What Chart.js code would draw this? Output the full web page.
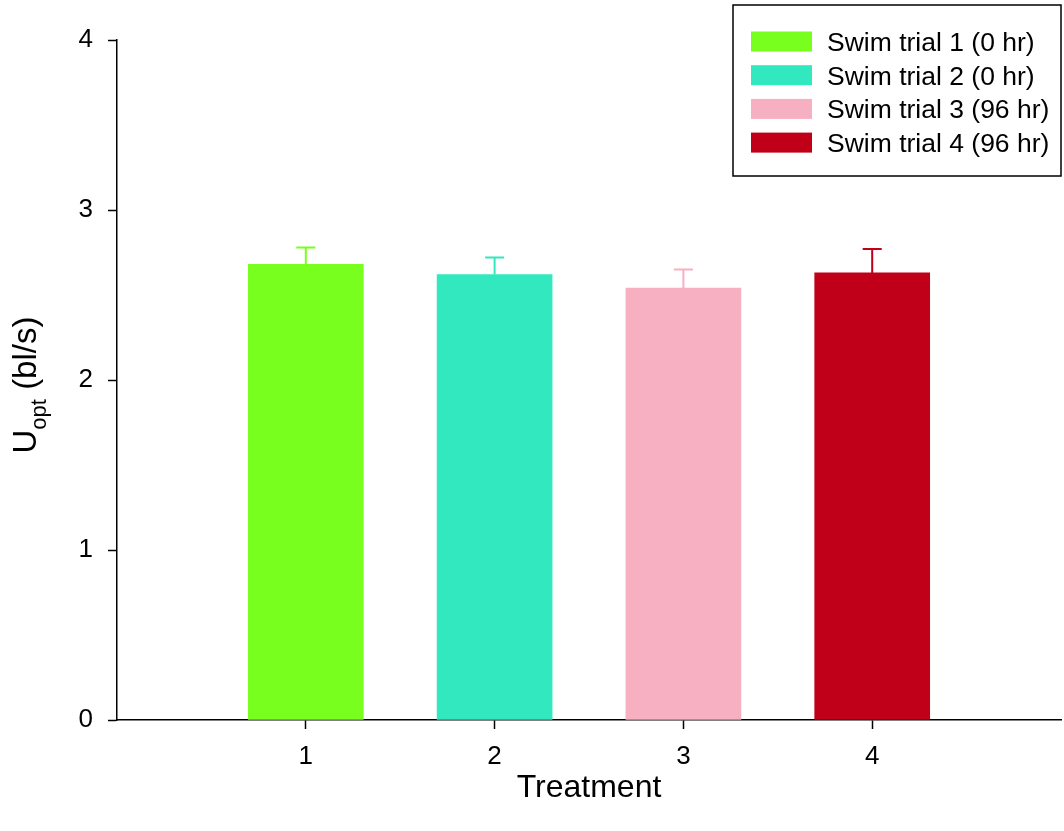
<!DOCTYPE html>
<html><head><meta charset="utf-8">
<script src="https://cdn.jsdelivr.net/npm/chart.js@4.4.1/dist/chart.umd.min.js"></script>
<style>html,body{margin:0;padding:0;background:#fff;} canvas{display:block;}</style>
</head><body>
<canvas id="c" width="1064" height="831"></canvas>
<script>
// ---- data ----
const categories = [1, 2, 3, 4];
const seriesLabels = ['Swim trial 1 (0 hr)', 'Swim trial 2 (0 hr)', 'Swim trial 3 (96 hr)', 'Swim trial 4 (96 hr)'];
const meanValues = [2.68, 2.62, 2.54, 2.63];
const errorValues = [0.10, 0.10, 0.11, 0.14];
const yTickValues = [0, 1, 2, 3, 4];
const xTickValues = [1, 2, 3, 4];
const xTitle = 'Treatment';
const yTitleMain = 'U';
const yTitleSub = 'opt';
const yTitleRest = ' (bl/s)';

// ---- styles ----
const colors = ['#78FF1E', '#32E8BE', '#F7AFC2', '#C00018'];
const FONT = '"Liberation Sans", Arial, sans-serif';

const datasets = categories.map((c, i) => ({
  label: seriesLabels[i],
  data: [{ x: c, y: meanValues[i], err: errorValues[i] }],
  backgroundColor: colors[i],
  borderWidth: 0,
  barThickness: 115,
  grouped: false
}));

const errorBarPlugin = {
  id: 'errorBars',
  afterDatasetsDraw(chart) {
    const { ctx, scales: { y } } = chart;
    chart.data.datasets.forEach((ds, i) => {
      const meta = chart.getDatasetMeta(i);
      meta.data.forEach((bar, j) => {
        const pt = ds.data[j];
        const xp = bar.x;
        const yTop = y.getPixelForValue(pt.y + pt.err);
        ctx.save();
        ctx.strokeStyle = ds.backgroundColor;
        ctx.lineWidth = 2;
        ctx.beginPath();
        ctx.moveTo(xp, bar.y);
        ctx.lineTo(xp, yTop);
        ctx.moveTo(xp - 9.5, yTop);
        ctx.lineTo(xp + 9.5, yTop);
        ctx.stroke();
        ctx.restore();
      });
    });
  }
};

const legendPlugin = {
  id: 'boxLegend',
  afterDraw(chart) {
    const ctx = chart.ctx;
    const fs = 26.5;
    ctx.save();
    ctx.strokeStyle = '#000';
    ctx.lineWidth = 1.5;
    ctx.strokeRect(733, 5, 328, 171);
    ctx.font = fs + 'px ' + FONT;
    ctx.textBaseline = 'alphabetic';
    chart.data.datasets.forEach((ds, i) => {
      const top = 31.5 + i * 33.7;
      ctx.fillStyle = ds.backgroundColor;
      ctx.fillRect(751, top, 61, 20);
      ctx.fillStyle = '#000';
      ctx.fillText(ds.label, 827, top + 10 + 0.358 * fs);
    });
    ctx.restore();
  }
};

const yTitlePlugin = {
  id: 'yTitle',
  afterDraw(chart) {
    const ctx = chart.ctx;
    const mainF = '33px ' + FONT, subF = '22px ' + FONT;
    ctx.save();
    ctx.font = mainF; const w1 = ctx.measureText(yTitleMain).width;
    const w3 = ctx.measureText(yTitleRest).width;
    ctx.font = subF; const w2 = ctx.measureText(yTitleSub).width;
    const total = w1 + w2 + w3;
    const cy = 385;
    ctx.translate(36, cy + total / 2);
    ctx.rotate(-Math.PI / 2);
    ctx.fillStyle = '#000';
    ctx.textBaseline = 'alphabetic';
    ctx.textAlign = 'left';
    ctx.font = mainF; ctx.fillText(yTitleMain, 0, 0);
    ctx.font = subF; ctx.fillText(yTitleSub, w1, 10);
    ctx.font = mainF; ctx.fillText(yTitleRest, w1 + w2, 0);
    ctx.restore();
  }
};

new Chart(document.getElementById('c'), {
  type: 'bar',
  data: { datasets },
  options: {
    responsive: false,
    animation: false,
    events: [],
    layout: { padding: { top: 40, right: 3, left: 0, bottom: 0 } },
    plugins: { legend: { display: false }, tooltip: { enabled: false } },
    scales: {
      x: {
        type: 'linear',
        min: 0, max: 5,
        offset: false,
        afterBuildTicks: s => { s.ticks = xTickValues.map(v => ({ value: v })); },
        afterFit: s => { s.height = 111; },
        ticks: { font: { size: 26, family: FONT }, color: '#000', padding: 12, autoSkip: false, maxRotation: 0, callback: v => String(v) },
        grid: { display: true, offset: false, drawOnChartArea: false, drawTicks: true, tickLength: 9, tickColor: '#000', tickWidth: 1.5 },
        border: { display: true, color: '#000', width: 1.5 },
        title: { display: true, text: xTitle, color: '#000', font: { size: 32, family: FONT }, padding: { top: 0, bottom: 24 } }
      },
      y: {
        min: 0, max: 4,
        afterBuildTicks: s => { s.ticks = yTickValues.map(v => ({ value: v })); },
        afterFit: s => { s.width = 117; },
        ticks: { font: { size: 26, family: FONT }, color: '#000', padding: 15, callback: v => String(v) },
        grid: { display: true, drawOnChartArea: false, drawTicks: true, tickLength: 9, tickColor: '#000', tickWidth: 1.5 },
        border: { display: true, color: '#000', width: 1.5 }
      }
    }
  },
  plugins: [errorBarPlugin, legendPlugin, yTitlePlugin]
});
</script>
</body></html>
